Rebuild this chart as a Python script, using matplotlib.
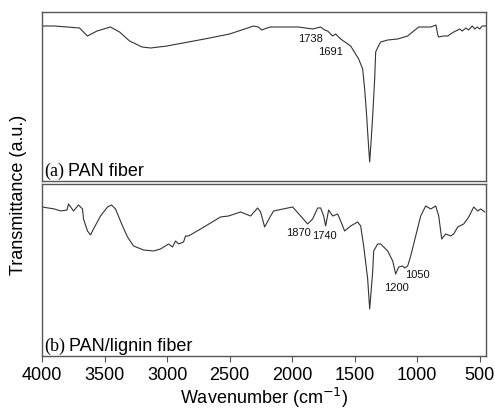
"""FTIR spectra of PAN and PAN/lignin fibers, two stacked panels."""

import matplotlib
matplotlib.use("Agg")
import matplotlib.pyplot as plt

# ---- data (transmittance in arbitrary units) ----
pan_wn = [4000, 3900, 3800, 3700, 3636, 3560, 3452, 3380, 3300, 3200, 3132,
          3000, 2916, 2700, 2500, 2308, 2270, 2243, 2200, 2172, 2092, 1950,
          1836, 1772, 1740, 1716, 1676, 1652, 1612, 1532, 1468, 1436, 1420,
          1404, 1390, 1380, 1370, 1356, 1340, 1332, 1310, 1292, 1236, 1156,
          1076, 1028, 988, 892, 850, 835, 828, 790, 756, 708, 660, 640, 610,
          590, 560, 540, 520, 500, 480, 450]
pan_t = [155, 155, 154, 153, 145, 150, 154, 149, 140, 134, 133,
         135, 137, 142, 147, 155, 154, 151, 153, 154, 154, 154,
         152, 154, 151, 150, 145, 147, 142, 135, 122, 112, 92,
         65, 37, 19, 37, 65, 102, 129, 135, 139, 141, 142,
         145, 150, 154, 154, 156, 146, 144, 145, 145, 149, 152, 150, 153,
         151, 155, 152, 154, 152, 155, 155]

lig_wn = [4000, 3950, 3900, 3850, 3800, 3788, 3748, 3708, 3676, 3668, 3636,
          3612, 3588, 3532, 3476, 3444, 3412, 3356, 3316, 3268, 3188, 3108,
          3052, 2988, 2956, 2932, 2908, 2868, 2852, 2828, 2732, 2572, 2508,
          2412, 2332, 2276, 2252, 2220, 2172, 2148, 1996, 1932, 1876, 1836,
          1796, 1772, 1748, 1732, 1708, 1676, 1636, 1612, 1580, 1532, 1476,
          1452, 1428, 1396, 1380, 1356, 1348, 1316, 1292, 1236, 1196, 1172,
          1148, 1116, 1100, 1076, 1052, 1012, 972, 932, 892, 852, 828, 804,
          772, 732, 708, 676, 628, 588, 548, 516, 492, 460]
lig_t = [147, 146, 145, 143, 144, 150, 143, 149, 145, 135, 123,
         119, 125, 138, 147, 149, 145, 128, 117, 108, 104, 103,
         105, 110, 107, 113, 110, 112, 118, 118, 125, 137, 138,
         142, 138, 146, 142, 127, 138, 143, 147, 138, 130, 135,
         146, 146, 138, 128, 144, 138, 140, 133, 123, 128, 132,
         128, 108, 75, 45, 82, 103, 110, 110, 103, 93, 80,
         87, 88, 86, 88, 98, 118, 138, 148, 145, 148, 138, 115,
         120, 118, 120, 127, 130, 137, 147, 143, 145, 142]

pan_peaks = ["1738", "1691"]
pan_peak_pos = [(1852, 143), (1692, 130)]
lig_peaks = ["1870", "1740", "1200", "1050"]
lig_peak_pos = [(1948, 122), (1740, 119), (1164, 67), (996, 80)]

x_ticks = [4000, 3500, 3000, 2500, 2000, 1500, 1000, 500]

LINE = "#333333"
SPINE = "#555555"
SANS = "Liberation Sans"

fig = plt.figure(figsize=(4.95, 4.14), dpi=100)
ax_a = fig.add_axes([0.0848, 0.5604, 0.897, 0.4082])
ax_b = fig.add_axes([0.0848, 0.1377, 0.897, 0.4155])

panels = [
    (ax_a, pan_wn, pan_t, (0, 169), "(a)", "PAN fiber", pan_peaks, pan_peak_pos),
    (ax_b, lig_wn, lig_t, (-2, 170), "(b)", "PAN/lignin fiber", lig_peaks, lig_peak_pos),
]
for ax, wn, t, ylim, tag, name, peaks, pos in panels:
    ax.plot(wn, t, color=LINE, lw=0.8)
    ax.set_xlim(4000, 450)
    ax.set_ylim(*ylim)
    ax.set_yticks([])
    for s in ax.spines.values():
        s.set_color(SPINE)
        s.set_linewidth(1.0)
    for label, (px, py) in zip(peaks, pos):
        ax.text(px, py, label, fontsize=8, ha="center", va="center",
                family=SANS, color="#111111")
    t_tag = ax.text(0.004, 0.036, tag, transform=ax.transAxes, fontsize=13,
                    family="Liberation Serif", va="baseline", ha="left")
    ax.annotate(name, xy=(1, 0.036), xycoords=(t_tag, "axes fraction"),
                xytext=(3, 0), textcoords="offset points", fontsize=13,
                family=SANS, va="baseline", ha="left")

ax_a.set_xticks([])
ax_b.set_xticks(x_ticks)
ax_b.tick_params(axis="x", direction="out", length=4.5, width=0.8,
                 color=SPINE, labelsize=13, pad=3)
for lb in ax_b.get_xticklabels():
    lb.set_family(SANS)
ax_b.set_xlabel("Wavenumber (cm$^{-1}$)", fontsize=13, family=SANS,
                labelpad=1)

fig.text(0.038, 0.53, "Transmittance (a.u.)", rotation=90, fontsize=13,
         family=SANS, ha="center", va="center")

fig.savefig("out.png", dpi=100)
